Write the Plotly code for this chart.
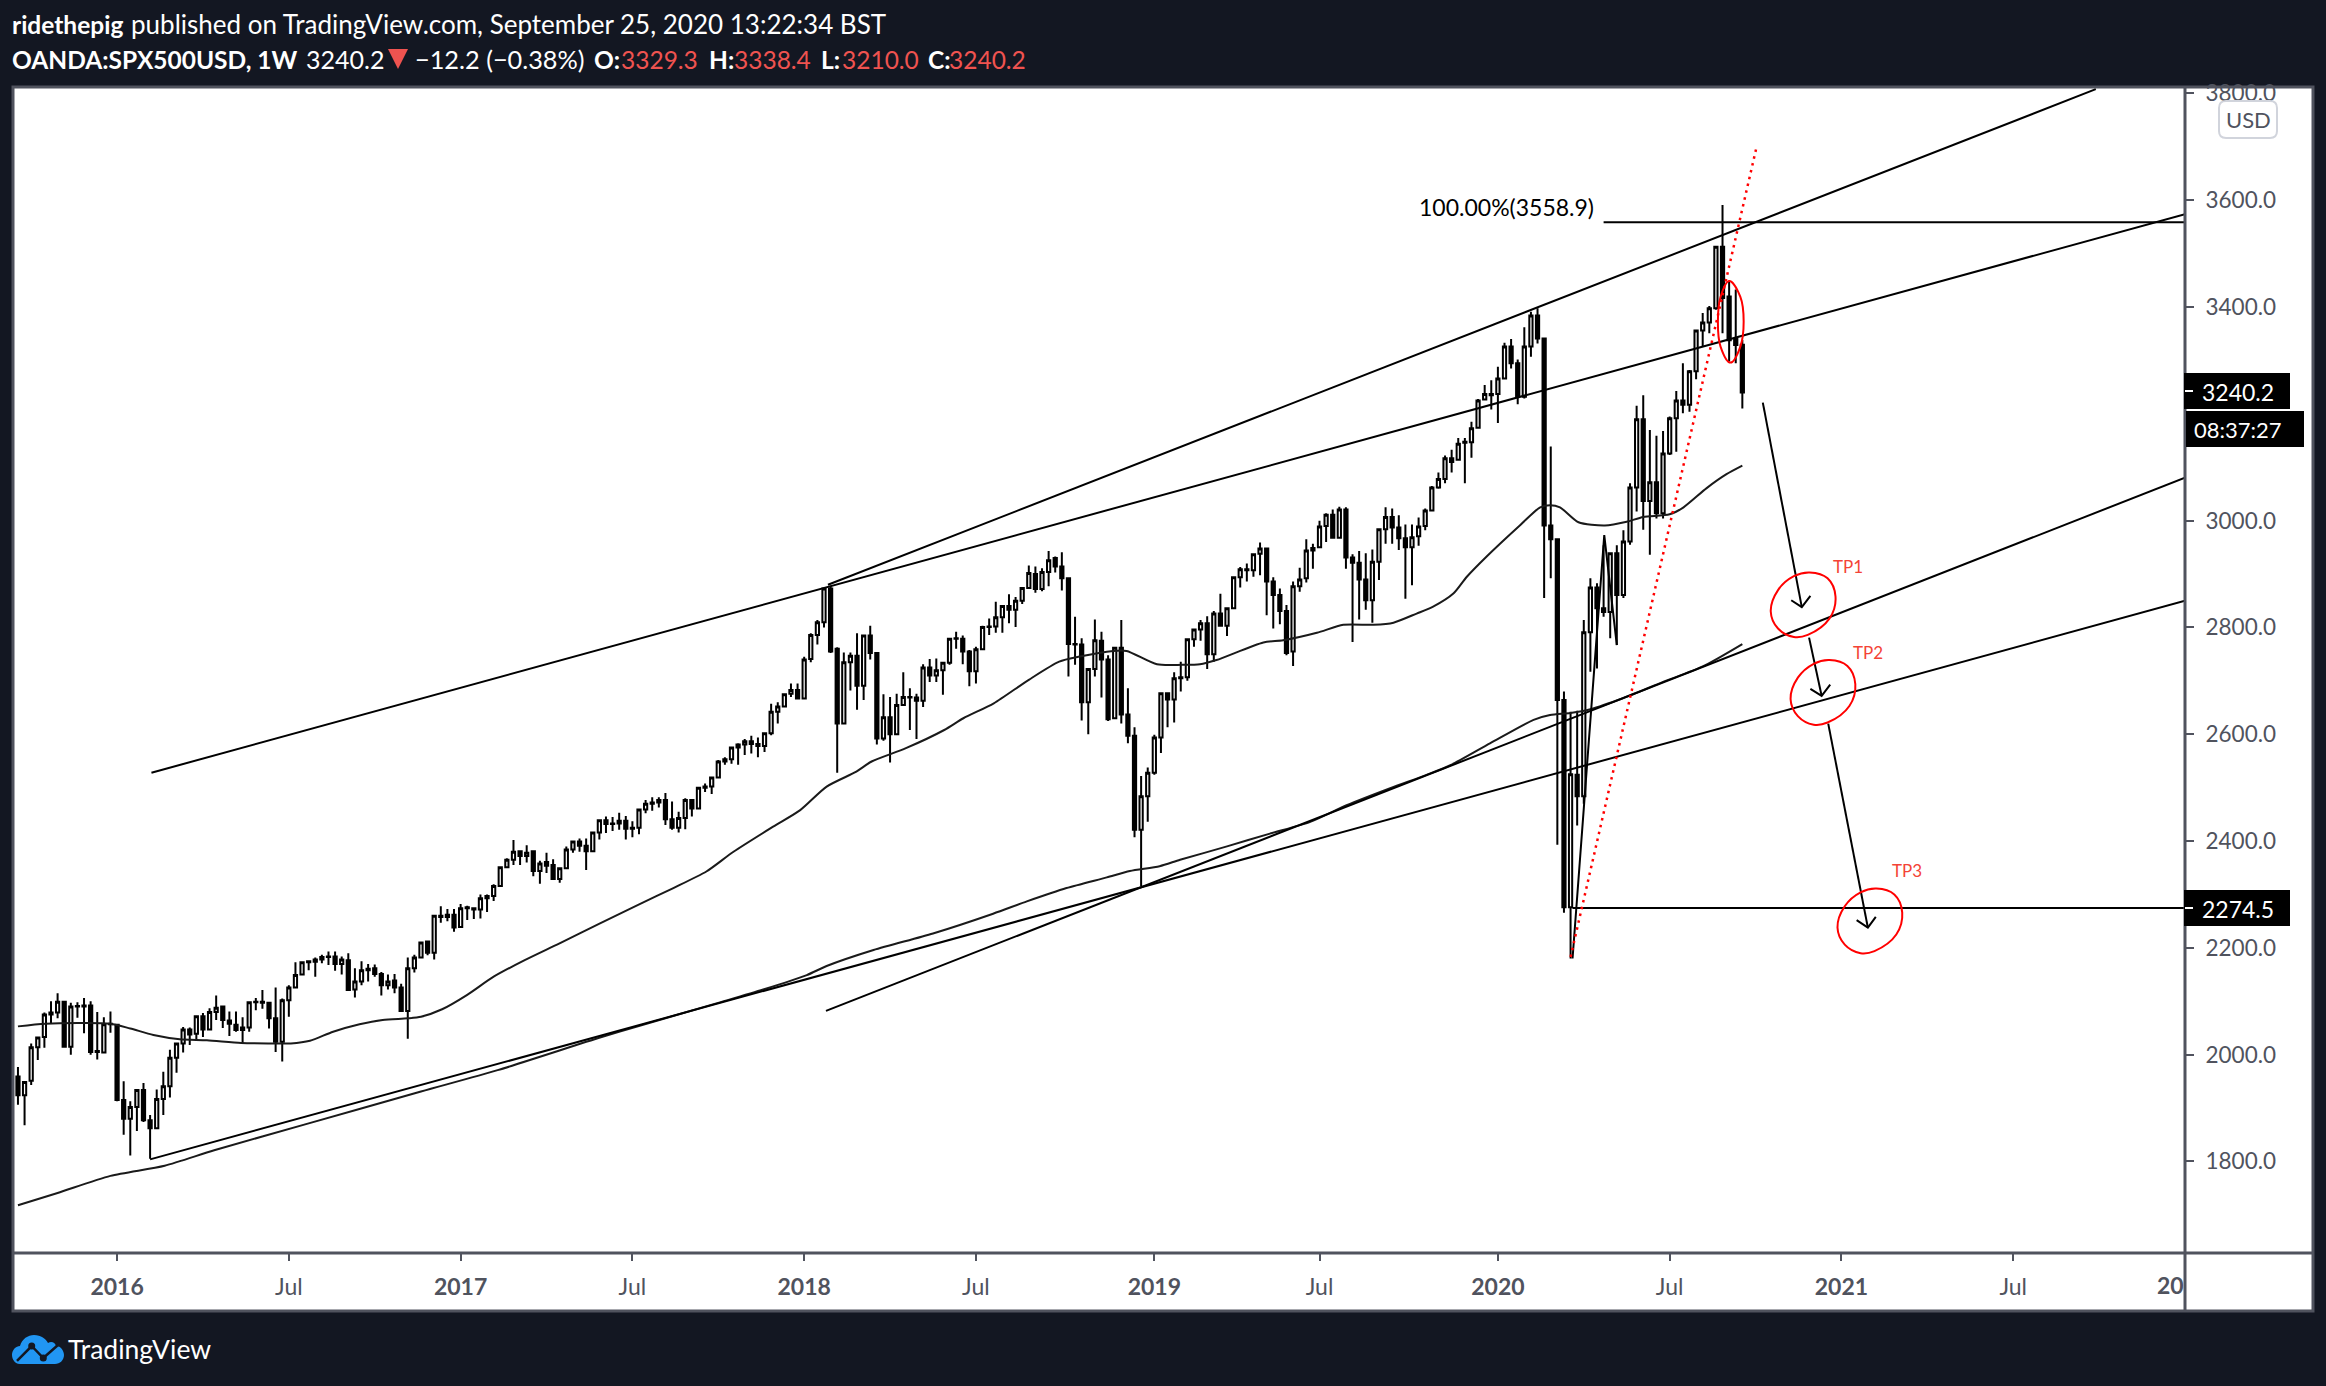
from datetime import datetime, timedelta
import plotly.graph_objects as go

# ---------- values ----------
first_week = "2015-09-21"
opens = [1959,1924,1951,2014,2033,2075,2079,2099,2015,2090,2090,2092,2007,2004,2057,2056,1915,1880,1902,1934,
 1877,1862,1917,1941,1994,2021,2047,2039,2072,2047,2080,2090,2064,2056,2046,2051,2098,2099,2097,2068,
 2024,2102,2126,2150,2173,2174,2178,2184,2184,2170,2177,2122,2137,2158,2162,2151,2130,2139,2126,2082,
 2162,2182,2212,2191,2260,2258,2262,2239,2276,2274,2272,2293,2297,2316,2351,2365,2381,2372,2381,2344,
 2361,2355,2329,2349,2384,2399,2391,2381,2416,2439,2432,2433,2438,2423,2425,2459,2470,2472,2477,2441,
 2425,2443,2477,2461,2500,2502,2519,2549,2553,2575,2581,2587,2582,2578,2602,2642,2652,2676,2683,2667,
 2741,2786,2810,2873,2760,2620,2735,2747,2691,2785,2752,2592,2632,2600,2655,2670,2669,2663,2725,2710,
 2720,2734,2779,2779,2755,2718,2759,2801,2802,2819,2840,2833,2850,2874,2900,2872,2904,2930,2914,2892,
 2769,2768,2660,2722,2775,2740,2630,2762,2637,2597,2421,2484,2528,2594,2677,2665,2705,2707,2778,2796,
 2808,2750,2826,2803,2836,2894,2909,2907,2938,2948,2886,2861,2831,2755,2877,2892,2949,2950,2990,3011,
 2968,3021,2931,2921,2890,2851,2923,2984,3007,2987,2967,2950,2971,2990,3019,3062,3078,3117,3114,3146,
 3147,3174,3227,3237,3237,3266,3326,3295,3232,3326,3384,3341,2991,2965,2664,2276,2524,2484,2791,2875,
 2836,2829,2939,2861,2961,3062,3190,3037,3072,3014,3126,3192,3225,3217,3280,3356,3371,3398,3513,3420,
 3340,3329.3]
highs = [1977,1950,2021,2033,2079,2100,2115,2100,2097,2098,2106,2100,2080,2070,2081,2058,1950,1913,1935,1947,
 1887,1935,1968,2009,2021,2052,2051,2074,2078,2087,2111,2090,2081,2081,2070,2099,2106,2121,2097,2126,
 2105,2130,2173,2175,2177,2182,2187,2193,2193,2184,2190,2162,2175,2170,2169,2155,2150,2151,2133,2182,
 2187,2211,2213,2260,2278,2273,2273,2282,2279,2276,2300,2300,2319,2353,2368,2402,2383,2392,2381,2363,
 2378,2366,2350,2390,2400,2405,2405,2418,2440,2446,2445,2453,2447,2437,2461,2477,2482,2482,2490,2474,
 2455,2480,2478,2500,2508,2520,2552,2557,2576,2583,2591,2597,2594,2604,2657,2660,2677,2695,2695,2745,
 2789,2814,2875,2878,2763,2753,2753,2789,2786,2803,2752,2675,2670,2676,2716,2686,2676,2731,2741,2742,
 2735,2779,2792,2785,2758,2764,2803,2817,2848,2841,2862,2857,2876,2916,2914,2911,2943,2933,2941,2894,
 2820,2780,2722,2815,2792,2748,2764,2814,2686,2613,2522,2538,2599,2677,2677,2716,2736,2778,2798,2814,
 2821,2831,2863,2836,2894,2913,2920,2939,2959,2948,2894,2873,2842,2886,2912,2965,2957,3000,3014,3021,
 3026,3025,2937,2943,2939,2946,2984,3025,3023,3010,2993,2993,3006,3023,3065,3090,3122,3133,3155,3155,
 3185,3228,3254,3263,3288,3333,3340,3302,3362,3391,3398,3341,3139,2965,2680,2642,2644,2814,2892,2883,
 2954,2939,2954,2982,3070,3215,3235,3170,3159,3168,3195,3243,3295,3282,3356,3389,3402,3513,3591,3447,
 3433,3338.4]
lows = [1906,1868,1943,1990,2013,2059,2068,2014,2000,2069,2040,2000,1991,2004,2041,1913,1850,1811,1857,1874,
 1805,1862,1887,1920,1966,2004,2018,2027,2033,2046,2065,2050,2035,2043,2022,2043,2083,2086,2049,2005,
 1987,2071,2126,2150,2158,2146,2171,2168,2157,2150,2121,2107,2130,2137,2146,2111,2122,2115,2081,2030,
 2154,2180,2186,2178,2247,2250,2230,2238,2252,2254,2255,2267,2288,2316,2351,2355,2355,2360,2334,2320,
 2340,2327,2322,2349,2378,2380,2346,2380,2403,2415,2419,2421,2403,2407,2413,2452,2457,2463,2430,2421,
 2416,2422,2446,2461,2492,2488,2519,2543,2545,2543,2561,2564,2557,2567,2598,2620,2650,2670,2665,2665,
 2735,2768,2800,2752,2528,2620,2682,2646,2664,2740,2581,2588,2547,2600,2655,2608,2591,2651,2698,2698,
 2674,2730,2760,2731,2690,2695,2758,2786,2790,2790,2808,2801,2844,2874,2865,2868,2877,2903,2869,2708,
 2730,2626,2600,2708,2669,2625,2628,2620,2583,2407,2316,2436,2524,2565,2613,2622,2680,2700,2764,2775,
 2722,2736,2803,2784,2836,2875,2886,2895,2898,2823,2798,2806,2748,2728,2867,2884,2910,2950,2960,2967,
 2968,2910,2773,2815,2833,2809,2889,2957,2957,2945,2854,2879,2953,2982,3019,3060,3070,3090,3112,3070,
 3118,3174,3225,3208,3183,3266,3285,3218,3229,3307,3332,2855,2892,2393,2266,2180,2429,2470,2717,2723,
 2820,2780,2767,2855,2955,3017,2983,2936,3004,3004,3123,3129,3201,3204,3265,3326,3351,3395,3351,3298,
 3295,3210.0]
closes = [1924,1949,2014,2032,2075,2079,2099,2015,2090,2091,2092,2005,2005,2057,2058,1915,1880,1902,1934,1877,
 1862,1917,1941,1994,2021,2047,2038,2072,2047,2080,2088,2065,2058,2046,2051,2098,2099,2097,2068,2024,
 2102,2126,2149,2173,2175,2178,2183,2183,2170,2178,2121,2137,2158,2161,2151,2130,2137,2126,2082,2162,
 2182,2210,2191,2260,2258,2262,2238,2274,2274,2272,2293,2297,2316,2351,2365,2380,2372,2378,2344,2358,
 2354,2329,2349,2384,2399,2391,2381,2416,2439,2432,2433,2438,2423,2425,2459,2470,2472,2477,2441,2425,
 2443,2477,2461,2500,2502,2519,2549,2553,2575,2581,2587,2582,2578,2602,2642,2652,2675,2683,2667,2740,
 2786,2810,2873,2755,2620,2735,2747,2691,2785,2752,2592,2632,2600,2655,2670,2669,2663,2725,2710,2720,
 2734,2779,2780,2755,2718,2759,2801,2802,2819,2840,2833,2850,2874,2902,2872,2904,2926,2914,2892,2769,
 2768,2660,2722,2776,2740,2628,2762,2637,2597,2421,2484,2528,2594,2677,2665,2705,2707,2778,2796,2808,
 2750,2826,2803,2836,2894,2909,2907,2937,2948,2886,2861,2831,2752,2877,2890,2944,2944,2989,3011,2968,
 3021,2931,2921,2890,2851,2923,2984,3007,2987,2967,2950,2969,2989,3019,3062,3078,3117,3110,3144,3148,
 3173,3225,3237,3235,3266,3326,3295,3232,3326,3384,3341,2991,2965,2664,2276,2525,2484,2791,2875,2836,
 2829,2939,2861,2961,3062,3190,3037,3072,3014,3126,3192,3225,3217,3280,3356,3371,3398,3513,3417,3338,
 3329,3240.2]

ma_fast_week = [0,4.2,14,17,20.5,24.5,28.6,33.8,39,41.3,44.2,47.7,51.7,55.2,59,61,64.2,68,72,76.7,81.9,88.1,94.1,99.2,104.2,108.3,114.3,118.4,122.4,126.9,129.2,134.4,140.2,143.1,147.7,153,157.6,160.5,165.8,167.8,172.4,176.2,178.9,181.4,188.5,191.5,196.6,200.6,205.2,208.2,211.7,214.2,217.3,219.3,222.3,227.4,230.4,231.9,233.4,236.2,240.2,243.5,246,250,252.1,255.6,258.6,261]
ma_fast_price = [2053,2058,2058,2049,2037,2029,2027,2022,2021,2021,2026,2043,2057,2065,2068,2071,2085,2112,2146,2177,2208,2246,2282,2312,2343,2380,2427,2458,2502,2530,2549,2574,2608,2630,2658,2702,2736,2745,2756,2756,2731,2730,2731,2739,2772,2776,2790,2805,2805,2809,2826,2839,2864,2895,2933,2992,3025,3029,3025,2997,2991,2998,3007,3012,3025,3061,3087,3103]
ma_slow_week = [0,6,14,22.2,29.7,43.6,61,72.6,88.1,94.1,105.7,112.8,119.4,122.4,129.5,138.5,147.6,152.7,158.7,164.8,168.3,172.8,175.9,183,189.5,195.6,201.1,207.7,213.2,216.8,222.8,229.4,231.9,235,238,243,249,255,261]
ma_slow_price = [1718,1741,1773,1792,1821,1870,1931,1971,2032,2054,2096,2122,2149,2166,2196,2227,2264,2287,2312,2332,2344,2353,2365,2390,2414,2436,2467,2499,2524,2542,2583,2627,2636,2640,2647,2668,2698,2727,2769]

trend_a_week, trend_a_price = [20.2, 328], [2528, 3574]
trend_b_week, trend_b_price = [122.6, 314.5], [2880, 3808]
trend_c_week, trend_c_price = [20, 328], [1804, 2850]
trend_d_week, trend_d_price = [122.3, 328], [2082, 3080.5]
fib_week, fib_price = [240, 328], [3558.9, 3558.9]
floor_week, floor_price = [235.3, 328], [2274.5, 2274.5]
dotted_week, dotted_price = [235, 263.1], [2183, 3697]
scribble_week, scribble_price = [235.3, 240.1, 242], [2180, 2973, 2767]

arrow1_week, arrow1_price = [264.1, 270], [3221, 2838]
head1_week, head1_price = [268.4, 270, 271.3], [2851, 2838, 2859]
arrow2_week, arrow2_price = [271.1, 273], [2781, 2672]
head2_week, head2_price = [271.3, 273, 274.3], [2685, 2672, 2693]
arrow3_week, arrow3_price = [274, 280], [2620, 2238]
head3_week, head3_price = [278.3, 280, 281.2], [2252, 2238, 2258]

tp1_week = [271.2,273.9,275.1,274.2,270.9,268.8,266.4,265.3,266.4,268.8,271.2]
tp1_price = [2903,2892,2858,2817,2786,2782,2798,2830,2870,2896,2903]
tp2_week = [274.2,276.9,278.1,277.2,273.9,271.8,269.4,268.3,269.4,271.8,274.2]
tp2_price = [2739,2728,2694,2653,2622,2618,2634,2666,2706,2732,2739]
tp3_week = [281.3,284,285.2,284.3,281,278.9,276.5,275.4,276.5,278.9,281.3]
tp3_price = [2311,2300,2266,2225,2194,2190,2206,2238,2278,2304,2311]
top_week = [259,260.7,261.2,260.7,259.2,257.7,257.3,257.7,259]
top_price = [3449,3419,3373,3326,3296,3326,3373,3419,3449]

tp_labels = ["TP1", "TP2", "TP3"]
tp_label_week = [277, 280, 285.9]
tp_label_price = [2914, 2753, 2345]

y_ticks = [1800,2000,2200,2400,2600,2800,3000,3200,3400,3600,3800]
y_tick_text = ["1800.0","2000.0","2200.0","2400.0","2600.0","2800.0","3000.0","","3400.0","3600.0","3800.0"]
x_tick_dates = ["2016-01-04","2016-07-04","2017-01-02","2017-07-03","2018-01-01","2018-07-02","2019-01-07","2019-07-01","2020-01-06","2020-07-06","2021-01-04","2021-07-05"]
x_tick_text = ["<b>2016</b>","Jul","<b>2017</b>","Jul","<b>2018</b>","Jul","<b>2019</b>","Jul","<b>2020</b>","Jul","<b>2021</b>","Jul"]

# ---------- page geometry, in page pixels ----------
W, H = 2326, 1386
PL, PR, PT, PB = 14, 2185, 87, 1253
BG, EDGE, RED = "#131722", "#50535e", "#ef5350"
FONT = "Lato"

def px(x): return (x - PL) / (PR - PL)
def py(y): return (PB - y) / (PB - PT)
start = datetime.strptime(first_week, "%Y-%m-%d")
def wk(values): return [(start + timedelta(days=7 * v)).strftime("%Y-%m-%d %H:%M") for v in values]

fig = go.Figure()
fig.add_trace(go.Candlestick(
    x=wk(range(len(opens))), open=opens, high=highs, low=lows, close=closes,
    increasing=dict(line=dict(color="#000000", width=2), fillcolor="#ffffff"),
    decreasing=dict(line=dict(color="#000000", width=2), fillcolor="#000000"),
    hoverinfo="skip", showlegend=False))

def line(weeks, prices, color="#000000", width=2, dash=None, shape="linear", smoothing=0.7):
    fig.add_trace(go.Scatter(x=wk(weeks), y=prices, mode="lines", hoverinfo="skip", showlegend=False,
                             line=dict(color=color, width=width, dash=dash, shape=shape, smoothing=smoothing)))

line(ma_fast_week, ma_fast_price, color="#1a1a1a", shape="spline")
line(ma_slow_week, ma_slow_price, color="#1a1a1a", shape="spline")
for a, b in [(trend_a_week, trend_a_price), (trend_b_week, trend_b_price), (trend_c_week, trend_c_price),
             (trend_d_week, trend_d_price), (fib_week, fib_price), (floor_week, floor_price),
             (scribble_week, scribble_price), (arrow1_week, arrow1_price), (head1_week, head1_price),
             (arrow2_week, arrow2_price), (head2_week, head2_price), (arrow3_week, arrow3_price),
             (head3_week, head3_price)]:
    line(a, b)
line(dotted_week, dotted_price, color="#ff0000", width=2.5, dash="2.5px,4.5px")
for a, b in [(tp1_week, tp1_price), (tp2_week, tp2_price), (tp3_week, tp3_price), (top_week, top_price)]:
    line(a, b, color="#ff0000", width=2, shape="spline", smoothing=1.1)

def rect(x0, y0, x1, y1, fill, edge=None, width=0, layer="above"):
    fig.add_shape(type="rect", xref="paper", yref="paper", x0=px(x0), x1=px(x1), y0=py(y0), y1=py(y1),
                  fillcolor=fill, line=dict(color=edge or fill, width=width), layer=layer)
def seg(x0, y0, x1, y1, color=EDGE, width=3, layer="above"):
    fig.add_shape(type="line", xref="paper", yref="paper", x0=px(x0), x1=px(x1), y0=py(y0), y1=py(y1),
                  line=dict(color=color, width=width), layer=layer)
def path(points, fill=None, color=None, width=0, layer="above"):
    d = ""
    for cmd, *xy in points:
        d += cmd
        d += " ".join(f"{px(xy[k]):.5f},{py(xy[k+1]):.5f}" for k in range(0, len(xy), 2)) + " "
    fig.add_shape(type="path", xref="paper", yref="paper", path=d, fillcolor=fill,
                  line=dict(color=color or "rgba(0,0,0,0)", width=width), layer=layer)
def text(x, y, s, size=22, color="#ffffff", anchor="left", family=FONT):
    fig.add_annotation(xref="paper", yref="paper", x=px(x), y=py(y), text=s, showarrow=False, xanchor=anchor,
                       yanchor="middle", align=anchor, borderpad=0, borderwidth=0,
                       font=dict(family=family, size=size, color=color))

# white chart panel and its axes
rect(13, 87, 2313, 1311, "#ffffff", EDGE, 3, layer="below")
seg(PR, 87, PR, 1311)
seg(13, PB, 2313, PB)

# right-hand price labels
rect(2184, 373, 2290, 409, "#000000")
rect(2186, 411, 2304, 447, "#000000")
rect(2184, 890, 2290, 926, "#000000")
seg(2185, 391, 2193, 391, "#ffffff", 2)
seg(2185, 908, 2193, 908, "#ffffff", 2)
text(2202, 392, "3240.2", 23)
text(2194, 429, "08:37:27", 22)
text(2202, 909, "2274.5", 23)

# rounded USD button
path([("M", 2226,101), ("L", 2270,101), ("Q", 2277,101,2277,108), ("L", 2277,131), ("Q", 2277,138,2270,138),
      ("L", 2226,138), ("Q", 2219,138,2219,131), ("L", 2219,108), ("Q", 2219,101,2226,101), ("Z",)],
     fill="#ffffff", color="#d1d4dc", width=2)
text(2248, 119, "USD", 22, EDGE, "center")

# clipped 2022 label
text(2184, 1285, "<b>20</b>", 23, EDGE, "right")

# header, line one
text(12, 24, "<b>ridethepig</b>", 24.5)
text(131, 24, "published on TradingView.com, September 25, 2020 13:22:34 BST", 26)
# header, line two
text(12, 59, "<b>OANDA:SPX500USD, 1W</b>", 24.5)
text(306, 59, "3240.2", 25)
path([("M", 388,49), ("L", 408,49), ("L", 398,69), ("Z",)], fill=RED)
text(415, 59, "−12.2 (−0.38%)", 25.3)
for x_label, label, x_value, value in [(594, "O:", 621, "3329.3"), (709, "H:", 734, "3338.4"),
                                       (821, "L:", 842, "3210.0"), (928, "C:", 949, "3240.2")]:
    text(x_label, 59, f"<b>{label}</b>", 24.5)
    text(x_value, 59, value, 24.5, RED)

# footer logo
path([("M", 20,1364), ("C", 14,1364,12,1358,12,1355), ("C", 12,1350,16,1346,20,1346), ("C", 22,1339,28,1335,34,1335),
      ("C", 41,1335,46,1339,48,1343), ("C", 51,1341,55,1342,56,1346), ("C", 61,1346,64,1351,64,1355),
      ("C", 64,1360,60,1364,55,1364), ("Z",)], fill="#2196f3")
path([("M", 17,1361), ("L", 31.7,1346), ("L", 43.3,1358), ("L", 58,1345)], color=BG, width=2.5)
for cx, cy in [(31.7, 1346), (43.3, 1358)]:
    fig.add_shape(type="circle", xref="paper", yref="paper", x0=px(cx-3.5), x1=px(cx+3.5), y0=py(cy-3.5), y1=py(cy+3.5),
                  fillcolor=BG, line=dict(width=0), layer="above")
text(68, 1349, "TradingView", 26.5, "#ffffff")

# chart labels in data units
fig.add_annotation(x=wk([238.9])[0], y=3587, text="100.00%(3558.9)", showarrow=False, xanchor="right",
                   font=dict(family=FONT, size=23, color="#000000"))
for label, w, p in zip(tp_labels, tp_label_week, tp_label_price):
    fig.add_annotation(x=wk([w])[0], y=p, text=label, showarrow=False, font=dict(family=FONT, size=17, color="#f44336"))

fig.update_layout(
    width=W, height=H, paper_bgcolor=BG, plot_bgcolor="rgba(0,0,0,0)", showlegend=False,
    margin=dict(l=PL, r=W - PR, t=PT, b=H - PB, pad=0, autoexpand=False),
    font=dict(family=FONT, color=EDGE),
    xaxis=dict(type="date", range=wk([-0.6, 328]), rangeslider=dict(visible=False), showgrid=False, zeroline=False,
               showline=False, tickmode="array", tickvals=x_tick_dates, ticktext=x_tick_text,
               ticks="outside", ticklen=7, tickwidth=2, tickcolor=EDGE, tickfont=dict(family=FONT, size=23, color=EDGE),
               ticklabelstandoff=6),
    yaxis=dict(range=[1628.6, 3812.1], side="right", showgrid=False, zeroline=False, showline=False,
               tickmode="array", tickvals=y_ticks, ticktext=y_tick_text,
               ticks="outside", ticklen=8, tickwidth=2, tickcolor=EDGE, tickfont=dict(family=FONT, size=22.5, color=EDGE),
               ticklabelstandoff=7),
)
fig.write_html("out.html", config=dict(displayModeBar=False),
               post_script="document.body.style.margin='0';document.body.style.background='#131722';")
